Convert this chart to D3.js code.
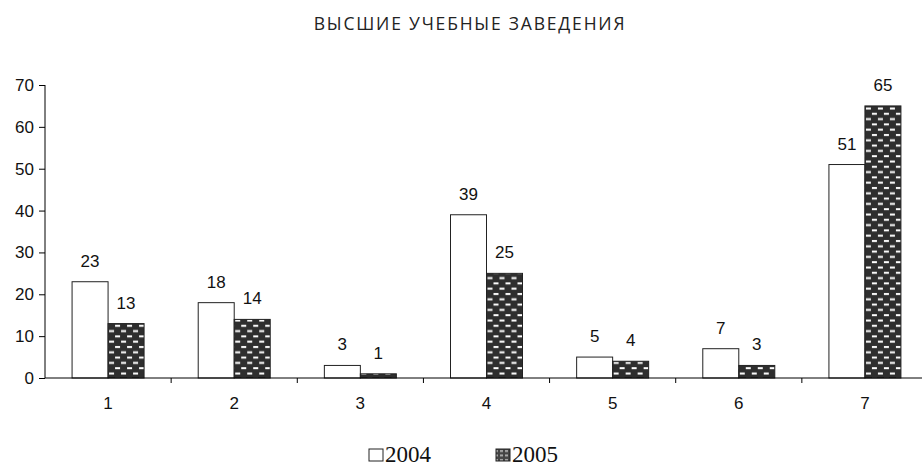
<!DOCTYPE html>
<html>
<head>
<meta charset="utf-8">
<script src="https://cdn.jsdelivr.net/npm/d3@7"></script>
<style>
  body { margin: 0; background: #fff; }
  svg { display: block; }
</style>
</head>
<body>
<div id="chart"></div>
<script>
// chart data
var categories = ["1", "2", "3", "4", "5", "6", "7"];
var years = ["2004", "2005"];
var values2004 = [23, 18, 3, 39, 5, 7, 51];
var values2005 = [13, 14, 1, 25, 4, 3, 65];
var yTicks = [0, 10, 20, 30, 40, 50, 60, 70];
var titleText = "ВЫСШИЕ УЧЕБНЫЕ ЗАВЕДЕНИЯ";

var graphWidth = 922;
var graphHeight = 468;
var numFont = "'Liberation Sans', Arial, sans-serif";

var x = d3.scaleBand()
    .domain(categories)
    .range([45, 928]);

var x1 = d3.scaleBand()
    .domain(years)
    .range([0, 72])
    .paddingInner(0);

var y = d3.scaleLinear()
    .domain([0, 70])
    .range([378, 85]);

var svg = d3.select("#chart")
    .append("svg")
    .attr("width", graphWidth)
    .attr("height", graphHeight);

// brick pattern for 2005
var defs = svg.append("defs");
var pat = defs.append("pattern")
    .attr("id", "brick")
    .attr("patternUnits", "userSpaceOnUse")
    .attr("width", 12)
    .attr("height", 10.6);
pat.append("rect").attr("width", 12).attr("height", 10.6).attr("fill", "#2e2e2e");
pat.append("rect").attr("x", 1).attr("y", 1.5).attr("width", 5).attr("height", 2).attr("fill", "#fff");
pat.append("rect").attr("x", 7).attr("y", 6.8).attr("width", 5).attr("height", 2).attr("fill", "#fff");

var legendPat = defs.append("pattern")
    .attr("id", "brickSmall")
    .attr("patternUnits", "userSpaceOnUse")
    .attr("width", 5)
    .attr("height", 4.5);
legendPat.append("rect").attr("width", 5).attr("height", 4.5).attr("fill", "#444");
legendPat.append("rect").attr("x", 1).attr("y", 1).attr("width", 3).attr("height", 2).attr("fill", "#aaa");

svg.append("text")
    .attr("x", 470)
    .attr("y", 30)
    .attr("text-anchor", "middle")
    .style("font-family", "'Open Sans', sans-serif")
    .style("font-size", "17.5px")
    .style("letter-spacing", "1.8px")
    .style("fill", "#222")
    .text(titleText);

// y axis
var yAxis = d3.axisLeft(y)
    .tickValues(yTicks)
    .tickSize(6)
    .tickPadding(5);

var yAxisArea = svg.append("g")
    .attr("transform", "translate(45,0)")
    .call(yAxis);
yAxisArea.select(".domain").attr("d", "M0," + y(70) + "V" + y(0));
yAxisArea.selectAll("text")
    .style("font-family", numFont)
    .style("font-size", "17px")
    .style("fill", "#111");

// bars
var groups = svg.selectAll(".grp")
    .data(categories)
    .enter().append("g")
    .attr("class", "grp")
    .attr("transform", function(d) { return "translate(" + (x(d) + x.bandwidth() / 2 - 36) + ",0)"; });

groups.each(function(c, i) {
    var g = d3.select(this);
    var vals = [values2004[i], values2005[i]];
    years.forEach(function(yr, j) {
        g.append("rect")
            .attr("x", x1(yr))
            .attr("y", y(vals[j]))
            .attr("width", x1.bandwidth())
            .attr("height", y(0) - y(vals[j]))
            .attr("fill", j === 0 ? "#fff" : "url(#brick)")
            .attr("stroke", "#222")
            .attr("stroke-width", 1);
        g.append("text")
            .attr("x", x1(yr) + x1.bandwidth() / 2)
            .attr("y", y(vals[j]) - 15)
            .attr("text-anchor", "middle")
            .style("font-family", numFont)
            .style("font-size", "17px")
            .style("fill", "#111")
            .text(vals[j]);
    });
});

// x axis
var xAxis = d3.axisBottom(x).tickSize(0).tickPadding(19);
var xAxisArea = svg.append("g")
    .attr("transform", "translate(0," + y(0) + ")")
    .call(xAxis);
xAxisArea.select(".domain").attr("d", "M45,0H928");
xAxisArea.selectAll("text")
    .style("font-family", numFont)
    .style("font-size", "17px")
    .style("fill", "#111");
// tick marks between categories
xAxisArea.selectAll(".sep")
    .data(categories.slice(1))
    .enter().append("line")
    .attr("class", "sep")
    .attr("x1", function(d) { return x(d); })
    .attr("x2", function(d) { return x(d); })
    .attr("y1", 0)
    .attr("y2", 5)
    .attr("stroke", "#000");

// legend
var legend = svg.append("g").attr("transform", "translate(369,449)");
var legendX = [0, 127];
years.forEach(function(yr, j) {
    legend.append("rect")
        .attr("x", legendX[j])
        .attr("y", 0)
        .attr("width", 14)
        .attr("height", 12)
        .attr("fill", j === 0 ? "#fff" : "url(#brickSmall)")
        .attr("stroke", "#222")
        .attr("stroke-width", 1);
    legend.append("text")
        .attr("x", legendX[j] + 16)
        .attr("y", 13)
        .style("font-family", "'Liberation Serif', 'Times New Roman', serif")
        .style("font-size", "23px")
        .style("fill", "#111")
        .text(yr);
});
</script>
</body>
</html>
